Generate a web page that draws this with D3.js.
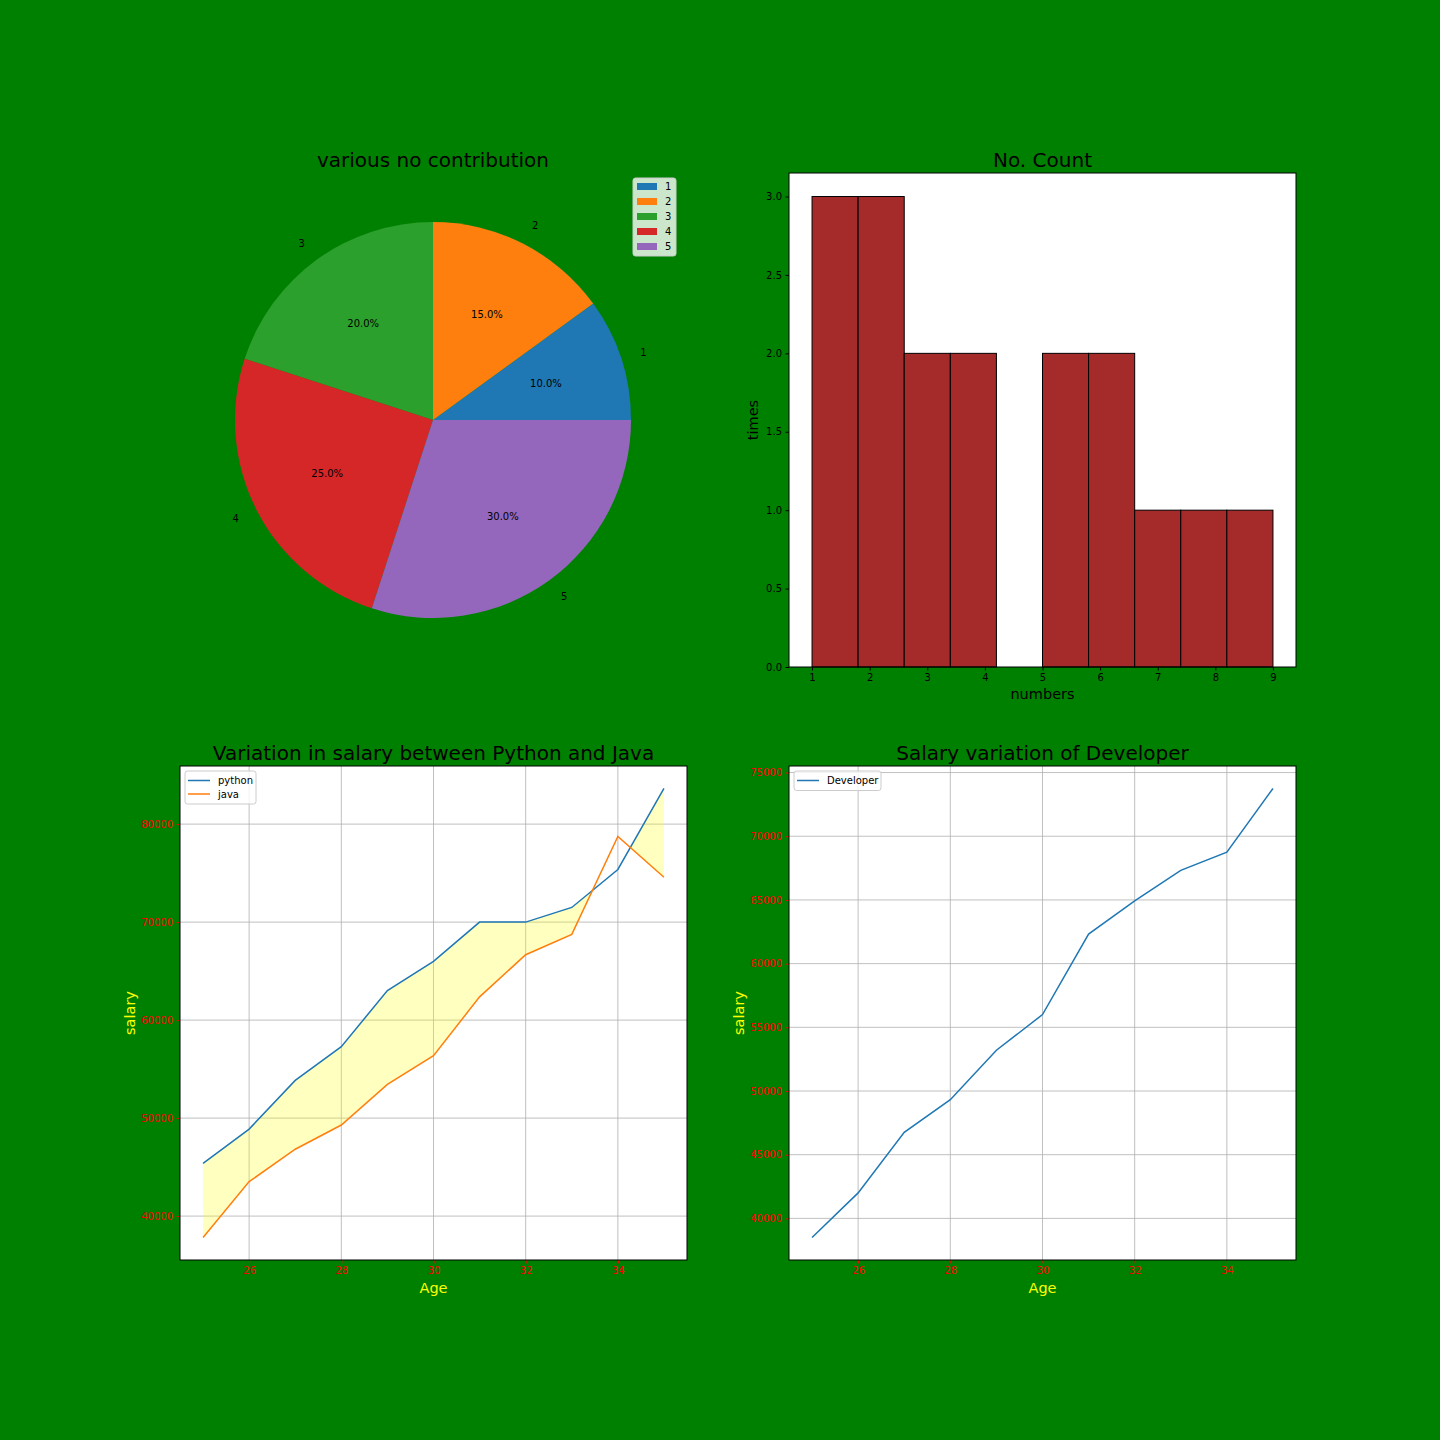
<!DOCTYPE html>
<html>
<head>
<meta charset="utf-8">
<script src="https://cdn.jsdelivr.net/npm/d3@7"></script>
<style>
  html, body { margin: 0; padding: 0; background: #008000; }
  svg { display: block; font-family: "DejaVu Sans", sans-serif; }
</style>
</head>
<body>
<svg id="chart" width="1440" height="1440"></svg>
<script>
// ---------- data ----------
const pieLabels = ["1", "2", "3", "4", "5"];
const pieValues = [10, 15, 20, 25, 30];
const pieColors = ["#1f77b4", "#ff7f0e", "#2ca02c", "#d62728", "#9467bd"];

const histNumbers = [1, 1, 1, 2, 2, 2, 3, 3, 4, 4, 5, 5, 6, 6, 7, 8, 9];
const histBinCount = 10;
const histYTicks = [0, 0.5, 1.0, 1.5, 2.0, 2.5, 3.0];
const histXTicks = [1, 2, 3, 4, 5, 6, 7, 8, 9];

const ages = [25, 26, 27, 28, 29, 30, 31, 32, 33, 34, 35];
const pythonSalary = [45372, 48876, 53850, 57287, 63016, 65998, 70003, 70000, 71496, 75370, 83640];
const javaSalary = [37810, 43515, 46823, 49293, 53437, 56373, 62375, 66674, 68745, 78750, 74583];
const devSalary = [38496, 42000, 46752, 49320, 53200, 56000, 62316, 64928, 67317, 68748, 73752];

const ageTicks = [26, 28, 30, 32, 34];
const leftSalaryTicks = [40000, 50000, 60000, 70000, 80000];
const rightSalaryTicks = [40000, 45000, 50000, 55000, 60000, 65000, 70000, 75000];

// ---------- setup ----------
const svg = d3.select("#chart");
const TICK_FS = 10, LABEL_FS = 14.5, TITLE_FS = 20;

function margined(ext, frac) {
  const r = ext[1] - ext[0];
  return [ext[0] - r * frac, ext[1] + r * frac];
}

// ---------- Pie ----------
(function () {
  const cx = 433, cy = 420, r = 198;
  const g = svg.append("g").attr("transform", `translate(${cx},${cy})`);
  const total = d3.sum(pieValues);
  const pie = d3.pie().sort(null).startAngle(Math.PI / 2).endAngle(Math.PI / 2 - 2 * Math.PI);
  const arcs = pie(pieValues);
  const arc = d3.arc().innerRadius(0).outerRadius(r);
  g.selectAll("path.slice").data(arcs).join("path")
    .attr("class", "slice")
    .attr("d", arc)
    .attr("fill", (d, i) => pieColors[i]);
  const labelArc = d3.arc().innerRadius(r * 1.1).outerRadius(r * 1.1);
  const pctArc = d3.arc().innerRadius(r * 0.6).outerRadius(r * 0.6);
  g.selectAll("text.lab").data(arcs).join("text")
    .attr("class", "lab")
    .attr("x", d => labelArc.centroid(d)[0])
    .attr("y", d => labelArc.centroid(d)[1])
    .attr("text-anchor", d => labelArc.centroid(d)[0] > 0 ? "start" : "end")
    .attr("dominant-baseline", "central")
    .attr("font-size", TICK_FS)
    .text((d, i) => pieLabels[i]);
  g.selectAll("text.pct").data(arcs).join("text")
    .attr("class", "pct")
    .attr("x", d => pctArc.centroid(d)[0])
    .attr("y", d => pctArc.centroid(d)[1])
    .attr("text-anchor", "middle")
    .attr("dominant-baseline", "central")
    .attr("font-size", TICK_FS)
    .text(d => (d.value / total * 100).toFixed(1) + "%");
  svg.append("text").attr("x", cx).attr("y", 167).attr("text-anchor", "middle")
    .attr("font-size", TITLE_FS).attr("fill", "#000").text("various no contribution");
  // legend
  const lg = svg.append("g").attr("transform", "translate(633,178)");
  lg.append("rect").attr("width", 43).attr("height", 78).attr("rx", 2.5)
    .attr("fill", "rgb(204,230,204)").attr("stroke", "#cccccc").attr("stroke-width", 1);
  pieLabels.forEach((lab, i) => {
    lg.append("rect").attr("x", 4).attr("y", 5 + i * 15).attr("width", 20).attr("height", 7)
      .attr("fill", pieColors[i]);
    lg.append("text").attr("x", 32).attr("y", 8.5 + i * 15).attr("dominant-baseline", "central")
      .attr("font-size", TICK_FS).text(lab);
  });
})();

// ---------- Axes helper ----------
function drawFrame(g, x0, y0, w, h) {
  g.append("rect").attr("x", x0).attr("y", y0).attr("width", w).attr("height", h)
    .attr("fill", "none").attr("stroke", "#000").attr("stroke-width", 1);
}

// ---------- Histogram ----------
(function () {
  const x0 = 789, y0 = 173, w = 507, h = 494;
  const lo = d3.min(histNumbers), hi = d3.max(histNumbers);
  const step = (hi - lo) / histBinCount;
  const bins = d3.range(histBinCount).map(i => ({ x0: lo + i * step, x1: lo + (i + 1) * step, count: 0 }));
  histNumbers.forEach(v => {
    let idx = Math.floor((v - lo) / step + 1e-9);
    if (idx >= histBinCount) idx = histBinCount - 1;
    bins[idx].count++;
  });
  const x = d3.scaleLinear().domain(margined([lo, hi], 0.05)).range([x0, x0 + w]);
  const y = d3.scaleLinear().domain([0, d3.max(bins, b => b.count) * 1.05]).range([y0 + h, y0]);
  const g = svg.append("g");
  g.append("rect").attr("x", x0).attr("y", y0).attr("width", w).attr("height", h).attr("fill", "#fff");
  g.selectAll("rect.bar").data(bins.filter(b => b.count > 0)).join("rect")
    .attr("class", "bar")
    .attr("x", b => x(b.x0)).attr("width", b => x(b.x1) - x(b.x0))
    .attr("y", b => y(b.count)).attr("height", b => y(0) - y(b.count))
    .attr("fill", "#a52a2a").attr("stroke", "#000").attr("stroke-width", 1);
  g.append("g").attr("transform", `translate(0,${y0 + h})`)
    .call(d3.axisBottom(x).tickValues(histXTicks).tickSize(3.5).tickPadding(3.5).tickFormat(d3.format("d")))
    .call(a => { a.select(".domain").remove(); a.selectAll("text").attr("font-size", TICK_FS).attr("fill", "#000").attr("font-family", "DejaVu Sans"); a.selectAll("line").attr("stroke", "#000"); });
  g.append("g").attr("transform", `translate(${x0},0)`)
    .call(d3.axisLeft(y).tickValues(histYTicks).tickSize(3.5).tickPadding(3.5).tickFormat(d3.format(".1f")))
    .call(a => { a.select(".domain").remove(); a.selectAll("text").attr("font-size", TICK_FS).attr("fill", "#000").attr("font-family", "DejaVu Sans"); a.selectAll("line").attr("stroke", "#000"); });
  drawFrame(g, x0, y0, w, h);
  svg.append("text").attr("x", x0 + w / 2).attr("y", 167).attr("text-anchor", "middle")
    .attr("font-size", TITLE_FS).text("No. Count");
  svg.append("text").attr("x", x0 + w / 2).attr("y", 699).attr("text-anchor", "middle")
    .attr("font-size", LABEL_FS).text("numbers");
  svg.append("text").attr("transform", `translate(758,${y0 + h / 2}) rotate(-90)`).attr("text-anchor", "middle")
    .attr("font-size", LABEL_FS).text("times");
})();

// ---------- Line chart helper ----------
function lineAxes(x0, y0, w, h, yData, yTicks, title) {
  const g = svg.append("g");
  const x = d3.scaleLinear().domain(margined(d3.extent(ages), 0.05)).range([x0, x0 + w]);
  const y = d3.scaleLinear().domain(margined(d3.extent(yData), 0.05)).range([y0 + h, y0]);
  g.append("rect").attr("x", x0).attr("y", y0).attr("width", w).attr("height", h).attr("fill", "#fff");
  // grid
  g.selectAll("line.gx").data(ageTicks).join("line").attr("class", "gx")
    .attr("x1", d => x(d)).attr("x2", d => x(d)).attr("y1", y0).attr("y2", y0 + h)
    .attr("stroke", "#b0b0b0").attr("stroke-width", 0.8);
  g.selectAll("line.gy").data(yTicks).join("line").attr("class", "gy")
    .attr("x1", x0).attr("x2", x0 + w).attr("y1", d => y(d)).attr("y2", d => y(d))
    .attr("stroke", "#b0b0b0").attr("stroke-width", 0.8);
  g.append("g").attr("transform", `translate(0,${y0 + h})`)
    .call(d3.axisBottom(x).tickValues(ageTicks).tickSize(3.5).tickPadding(3.5).tickFormat(d3.format("d")))
    .call(a => { a.select(".domain").remove(); a.selectAll("text").attr("font-size", TICK_FS).attr("fill", "#ff0000").attr("font-family", "DejaVu Sans"); a.selectAll("line").attr("stroke", "#ff0000"); });
  g.append("g").attr("transform", `translate(${x0},0)`)
    .call(d3.axisLeft(y).tickValues(yTicks).tickSize(3.5).tickPadding(3.5).tickFormat(d3.format("d")))
    .call(a => { a.select(".domain").remove(); a.selectAll("text").attr("font-size", TICK_FS).attr("fill", "#ff0000").attr("font-family", "DejaVu Sans"); a.selectAll("line").attr("stroke", "#ff0000"); });
  svg.append("text").attr("x", x0 + w / 2).attr("y", y0 - 6).attr("text-anchor", "middle")
    .attr("font-size", TITLE_FS).text(title);
  svg.append("text").attr("x", x0 + w / 2).attr("y", y0 + h + 33).attr("text-anchor", "middle")
    .attr("font-size", LABEL_FS).attr("fill", "#ffff00").text("Age");
  svg.append("text").attr("transform", `translate(${x0 - 45},${y0 + h / 2}) rotate(-90)`).attr("text-anchor", "middle")
    .attr("font-size", LABEL_FS).attr("fill", "#ffff00").text("salary");
  return { g, x, y };
}

function legend(x0, y0, items, w) {
  const lg = svg.append("g").attr("transform", `translate(${x0},${y0})`);
  lg.append("rect").attr("width", w).attr("height", 6 + items.length * 13.5).attr("rx", 2.5)
    .attr("fill", "rgba(255,255,255,0.8)").attr("stroke", "#cccccc").attr("stroke-width", 1);
  items.forEach((it, i) => {
    const yy = 9.5 + i * 13.5;
    lg.append("line").attr("x1", 3).attr("x2", 25).attr("y1", yy).attr("y2", yy)
      .attr("stroke", it.color).attr("stroke-width", 1.5);
    lg.append("text").attr("x", 33).attr("y", yy).attr("dominant-baseline", "central")
      .attr("font-size", TICK_FS).text(it.label);
  });
}

// ---------- Python vs Java ----------
(function () {
  const { g, x, y } = lineAxes(180, 766, 507, 494, pythonSalary.concat(javaSalary), leftSalaryTicks,
    "Variation in salary between Python and Java");
  const pts = ages.map((a, i) => ({ a, p: pythonSalary[i], j: javaSalary[i] }));
  // split into runs where python > java (interpolating crossings)
  const runs = [];
  let cur = null;
  for (let i = 0; i < pts.length; i++) {
    const d = pts[i].p - pts[i].j;
    if (i > 0) {
      const prev = pts[i - 1], dp = prev.p - prev.j;
      if ((dp > 0) !== (d > 0)) {
        const t = dp / (dp - d);
        const cross = { a: prev.a + t * (pts[i].a - prev.a), p: prev.p + t * (pts[i].p - prev.p) };
        cross.j = cross.p;
        if (cur) { cur.push(cross); runs.push(cur); cur = null; }
        else { cur = [cross]; }
      }
    }
    if (d > 0) { if (!cur) cur = []; cur.push(pts[i]); }
  }
  if (cur) runs.push(cur);
  const area = d3.area().x(d => x(d.a)).y0(d => y(d.j)).y1(d => y(d.p));
  g.selectAll("path.fill").data(runs).join("path").attr("class", "fill")
    .attr("d", area).attr("fill", "#ffff00").attr("fill-opacity", 0.25);
  const lineP = d3.line().x((d, i) => x(ages[i])).y(d => y(d));
  g.append("path").attr("d", lineP(pythonSalary)).attr("fill", "none").attr("stroke", "#1f77b4").attr("stroke-width", 1.5);
  g.append("path").attr("d", lineP(javaSalary)).attr("fill", "none").attr("stroke", "#ff7f0e").attr("stroke-width", 1.5);
  drawFrame(g, 180, 766, 507, 494);
  legend(185, 771, [{ label: "python", color: "#1f77b4" }, { label: "java", color: "#ff7f0e" }], 71);
})();

// ---------- Developer ----------
(function () {
  const { g, x, y } = lineAxes(789, 766, 507, 494, devSalary, rightSalaryTicks, "Salary variation of Developer");
  const line = d3.line().x((d, i) => x(ages[i])).y(d => y(d));
  g.append("path").attr("d", line(devSalary)).attr("fill", "none").attr("stroke", "#1f77b4").attr("stroke-width", 1.5);
  drawFrame(g, 789, 766, 507, 494);
  legend(794, 771, [{ label: "Developer", color: "#1f77b4" }], 87);
})();
</script>
</body>
</html>
